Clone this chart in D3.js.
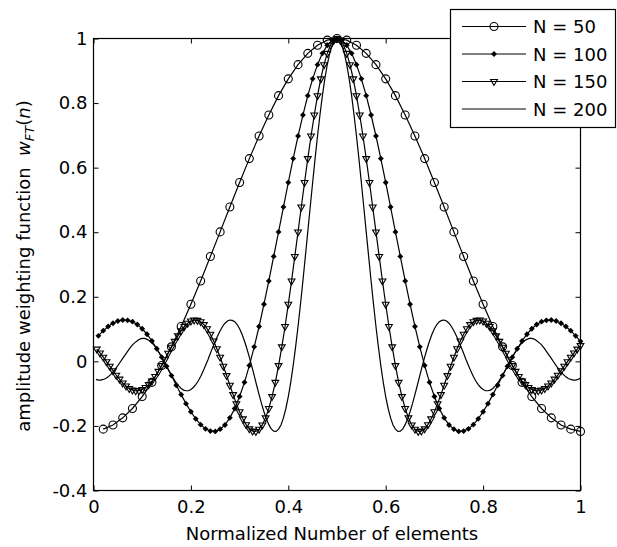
<!DOCTYPE html>
<html>
<head>
<meta charset="utf-8">
<script src="https://cdn.jsdelivr.net/npm/d3@7/dist/d3.min.js"></script>
<style>
  html, body { margin: 0; padding: 0; background: #fff; }
  svg { display: block; }
  text { font-family: "DejaVu Sans", "Liberation Sans", Arial, sans-serif; fill: #000; }
</style>
</head>
<body>
<svg id="chart" width="617" height="547"></svg>
<script>
// ---------------- data ----------------
const seriesN = [50, 100, 150, 200];
const seriesLabels = ["N = 50", "N = 100", "N = 150", "N = 200"];

const xTicks = [0, 0.2, 0.4, 0.6, 0.8, 1];
const xTickLabels = ["0", "0.2", "0.4", "0.6", "0.8", "1"];
const yTicks = [-0.4, -0.2, 0, 0.2, 0.4, 0.6, 0.8, 1];
const yTickLabels = ["-0.4", "-0.2", "0", "0.2", "0.4", "0.6", "0.8", "1"];

// values read at x = 1/N, 2/N, ..., 1
const w50 = [-0.210, -0.197, -0.175, -0.146, -0.109, -0.065, -0.013, 0.045, 0.108, 0.177,
  0.249, 0.325, 0.401, 0.478, 0.554, 0.628, 0.698, 0.763, 0.823, 0.875,
  0.919, 0.954, 0.979, 0.995, 1.000, 0.995, 0.979, 0.954, 0.919, 0.875,
  0.823, 0.763, 0.698, 0.628, 0.554, 0.478, 0.401, 0.325, 0.249, 0.177,
  0.108, 0.045, -0.013, -0.065, -0.109, -0.146, -0.175, -0.197, -0.210, -0.217];

const w100 = [0.079, 0.095, 0.108, 0.118, 0.125, 0.128, 0.127, 0.123, 0.114,
  0.101, 0.084, 0.063, 0.039, 0.013, -0.015, -0.044, -0.074, -0.103, -0.131,
  -0.156, -0.178, -0.196, -0.209, -0.216, -0.217, -0.210, -0.197, -0.175, -0.146,
  -0.109, -0.065, -0.013, 0.045, 0.108, 0.177, 0.249, 0.325, 0.401, 0.478,
  0.554, 0.628, 0.698, 0.763, 0.823, 0.875, 0.919, 0.954, 0.979, 0.995,
  1.000,
  0.995, 0.979, 0.954, 0.919, 0.875, 0.823, 0.763, 0.698, 0.628, 0.554,
  0.478, 0.401, 0.325, 0.249, 0.177, 0.108, 0.045, -0.013, -0.065, -0.109,
  -0.146, -0.175, -0.197, -0.210, -0.217, -0.216, -0.209, -0.196, -0.178, -0.156,
  -0.131, -0.103, -0.074, -0.044, -0.015, 0.013, 0.039, 0.063, 0.084, 0.101,
  0.114, 0.123, 0.127, 0.128, 0.125, 0.118, 0.108, 0.095, 0.079, 0.062];

const w150 = [0.038, 0.026, 0.013, -0.001,
  -0.015, -0.029, -0.043, -0.055, -0.067, -0.076, -0.084, -0.089, -0.091, -0.091,
  -0.087, -0.081, -0.072, -0.061, -0.047, -0.031, -0.013, 0.005, 0.025, 0.044,
  0.062, 0.079, 0.095, 0.108, 0.118, 0.125, 0.128, 0.127, 0.123, 0.114,
  0.101, 0.084, 0.063, 0.039, 0.013, -0.015, -0.044, -0.074, -0.103, -0.131,
  -0.156, -0.178, -0.196, -0.209, -0.216, -0.217, -0.210, -0.197, -0.175, -0.146,
  -0.109, -0.065, -0.013, 0.045, 0.108, 0.177, 0.249, 0.325, 0.401, 0.478,
  0.554, 0.628, 0.698, 0.763, 0.823, 0.875, 0.919, 0.954, 0.979, 0.995,
  1.000,
  0.995, 0.979, 0.954, 0.919, 0.875, 0.823, 0.763, 0.698, 0.628, 0.554,
  0.478, 0.401, 0.325, 0.249, 0.177, 0.108, 0.045, -0.013, -0.065, -0.109,
  -0.146, -0.175, -0.197, -0.210, -0.217, -0.216, -0.209, -0.196, -0.178, -0.156,
  -0.131, -0.103, -0.074, -0.044, -0.015, 0.013, 0.039, 0.063, 0.084, 0.101,
  0.114, 0.123, 0.127, 0.128, 0.125, 0.118, 0.108, 0.095, 0.079, 0.062,
  0.044, 0.025, 0.005, -0.013, -0.031, -0.047, -0.061, -0.072, -0.081, -0.087,
  -0.091, -0.091, -0.089, -0.084, -0.076, -0.067, -0.055, -0.043, -0.029, -0.015,
  -0.001, 0.013, 0.026, 0.038, 0.049];

const w200 = [-0.056, -0.058, -0.058, -0.056, -0.053, -0.048, -0.041, -0.033, -0.023,
  -0.013, -0.002, 0.009, 0.020, 0.031, 0.042, 0.051, 0.058, 0.064, 0.069,
  0.071, 0.071, 0.068, 0.064, 0.057, 0.049, 0.038, 0.026, 0.013, -0.001,
  -0.015, -0.029, -0.043, -0.055, -0.067, -0.076, -0.084, -0.089, -0.091, -0.091,
  -0.087, -0.081, -0.072, -0.061, -0.047, -0.031, -0.013, 0.005, 0.025, 0.044,
  0.062, 0.079, 0.095, 0.108, 0.118, 0.125, 0.128, 0.127, 0.123, 0.114,
  0.101, 0.084, 0.063, 0.039, 0.013, -0.015, -0.044, -0.074, -0.103, -0.131,
  -0.156, -0.178, -0.196, -0.209, -0.216, -0.217, -0.210, -0.197, -0.175, -0.146,
  -0.109, -0.065, -0.013, 0.045, 0.108, 0.177, 0.249, 0.325, 0.401, 0.478,
  0.554, 0.628, 0.698, 0.763, 0.823, 0.875, 0.919, 0.954, 0.979, 0.995,
  1.000,
  0.995, 0.979, 0.954, 0.919, 0.875, 0.823, 0.763, 0.698, 0.628, 0.554,
  0.478, 0.401, 0.325, 0.249, 0.177, 0.108, 0.045, -0.013, -0.065, -0.109,
  -0.146, -0.175, -0.197, -0.210, -0.217, -0.216, -0.209, -0.196, -0.178, -0.156,
  -0.131, -0.103, -0.074, -0.044, -0.015, 0.013, 0.039, 0.063, 0.084, 0.101,
  0.114, 0.123, 0.127, 0.128, 0.125, 0.118, 0.108, 0.095, 0.079, 0.062,
  0.044, 0.025, 0.005, -0.013, -0.031, -0.047, -0.061, -0.072, -0.081, -0.087,
  -0.091, -0.091, -0.089, -0.084, -0.076, -0.067, -0.055, -0.043, -0.029, -0.015,
  -0.001, 0.013, 0.026, 0.038, 0.049, 0.057, 0.064, 0.068, 0.071, 0.071,
  0.069, 0.064, 0.058, 0.051, 0.042, 0.031, 0.020, 0.009, -0.002, -0.013,
  -0.023, -0.033, -0.041, -0.048, -0.053, -0.056, -0.058, -0.058, -0.056, -0.052];

// ---------------- layout ----------------
const svg = d3.select("#chart");
const X0 = 93.5, X1 = 580.5, Y0 = 38.5, Y1 = 490.5;

const x = d3.scaleLinear().domain([0, 1]).range([X0, X1]);
const y = d3.scaleLinear().domain([-0.4, 1]).range([Y1, Y0]);

svg.append("rect").attr("width", 617).attr("height", 547).attr("fill", "#fff");

const markerTypes = ["circle", "dot", "triangle", "none"];
const series = seriesN.map((n, k) => ({
  n, label: seriesLabels[k],
  values: [w50, w100, w150, w200][k],
  marker: markerTypes[k]
}));

// axes
const fmtX = d => xTickLabels[xTicks.indexOf(d)];
const fmtY = d => yTickLabels[yTicks.indexOf(d)];

const gx = svg.append("g").attr("transform", `translate(0,${Y1})`)
  .call(d3.axisBottom(x).tickValues(xTicks).tickFormat(fmtX).tickSizeInner(-5).tickSizeOuter(0).tickPadding(10));
const gy = svg.append("g").attr("transform", `translate(${X0},0)`)
  .call(d3.axisLeft(y).tickValues(yTicks).tickFormat(fmtY).tickSizeInner(-5).tickSizeOuter(0).tickPadding(6));
const gt = svg.append("g").attr("transform", `translate(0,${Y0})`)
  .call(d3.axisTop(x).tickValues(xTicks).tickFormat("").tickSizeInner(-5).tickSizeOuter(0));
const gr = svg.append("g").attr("transform", `translate(${X1},0)`)
  .call(d3.axisRight(y).tickValues(yTicks).tickFormat("").tickSizeInner(-5).tickSizeOuter(0));

[gx, gy, gt, gr].forEach(g => {
  g.select(".domain").remove();
  g.selectAll(".tick line").attr("stroke", "#000").attr("stroke-width", 1);
  g.selectAll(".tick text").attr("font-size", 18).attr("font-family", "DejaVu Sans").attr("fill", "#000");
});

svg.append("rect")
  .attr("x", X0).attr("y", Y0).attr("width", X1 - X0).attr("height", Y1 - Y0)
  .attr("fill", "none").attr("stroke", "#000").attr("stroke-width", 1.2);

// series
const line = d3.line().x(d => x(d[0])).y(d => y(d[1]));
const plot = svg.append("g");

function drawMarker(g, type, cx, cy) {
  if (type === "circle") {
    g.append("circle").attr("cx", cx).attr("cy", cy).attr("r", 4)
      .attr("fill", "none").attr("stroke", "#000").attr("stroke-width", 1.1);
  } else if (type === "dot") {
    g.append("path").attr("d", d3.symbol(d3.symbolDiamond2, 22)())
      .attr("transform", `translate(${cx},${cy})`).attr("fill", "#000");
  } else if (type === "triangle") {
    g.append("path").attr("d", d3.symbol(d3.symbolTriangle, 20)())
      .attr("transform", `translate(${cx},${cy}) rotate(180)`)
      .attr("fill", "none").attr("stroke", "#000").attr("stroke-width", 1.1);
  }
}

series.forEach(s => {
  const pts = s.values.map((v, i) => [(i + 1) / s.n, v]);
  const g = plot.append("g");
  g.append("path").datum(pts).attr("d", line)
    .attr("fill", "none").attr("stroke", "#000").attr("stroke-width", 1.2);
  if (s.marker !== "none") {
    pts.forEach(p => drawMarker(g, s.marker, x(p[0]), y(p[1])));
  }
});

// axis labels
svg.append("text")
  .attr("x", 332).attr("y", 540).attr("text-anchor", "middle")
  .attr("font-size", 18)
  .text("Normalized Number of elements");

const yl = svg.append("text")
  .attr("transform", "translate(30,266) rotate(-90)")
  .attr("text-anchor", "middle")
  .attr("font-size", 18)
  .style("white-space", "pre");
yl.append("tspan").text("amplitude weighting function  ");
yl.append("tspan").attr("font-style", "italic").text("w");
yl.append("tspan").attr("font-style", "italic").attr("font-size", 13).attr("dy", 4).text("FT");
yl.append("tspan").attr("dy", -4).text("(");
yl.append("tspan").attr("font-style", "italic").text("n");
yl.append("tspan").text(")");

// legend
const lg = svg.append("g");
lg.append("rect").attr("x", 450.5).attr("y", 9.5).attr("width", 165).attr("height", 118)
  .attr("fill", "#fff").attr("stroke", "#000").attr("stroke-width", 1.2);
const legendY = [26.5, 54, 81.5, 109];
series.forEach((s, k) => {
  const ly = legendY[k];
  lg.append("line").attr("x1", 462).attr("x2", 526).attr("y1", ly).attr("y2", ly)
    .attr("stroke", "#000").attr("stroke-width", 1.2);
  drawMarker(lg, s.marker, 494, ly);
  lg.append("text").attr("x", 533).attr("y", ly + 6.5).attr("font-size", 18).text(s.label);
});
</script>
</body>
</html>
